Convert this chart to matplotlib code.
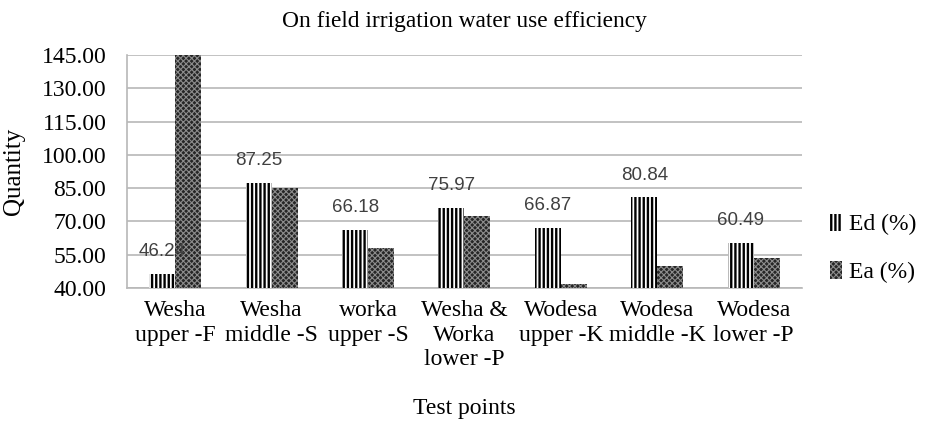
import numpy as np
import matplotlib.pyplot as plt

categories = ["Wesha\nupper -F", "Wesha\nmiddle -S", "worka\nupper -S",
              "Wesha &\nWorka\nlower -P", "Wodesa\nupper -K",
              "Wodesa\nmiddle -K", "Wodesa\nlower -P"]
ed = [46.24, 87.25, 66.18, 75.97, 66.87, 80.84, 60.49]
ea = [150.0, 84.9, 58.2, 72.6, 41.9, 49.9, 53.4]
yticks = [40, 55, 70, 85, 100, 115, 130, 145]

serif = "Liberation Serif"
ed_hlw, ea_hlw = 1.7, 0.8

fig = plt.figure(figsize=(9.28, 4.21), dpi=100)
ax = fig.add_axes([0.137, 0.316, 0.727, 0.553])

x = np.arange(len(categories))
w = 0.27
plt.rcParams['hatch.linewidth'] = ed_hlw
b1 = ax.bar(x - w / 2, ed, w, color="white", edgecolor="black",
            hatch="||||", linewidth=0, label="Ed (%)", zorder=3)
plt.rcParams['hatch.linewidth'] = ea_hlw
b2 = ax.bar(x + w / 2, ea, w, color="#262626", edgecolor="#8c8c8c",
            hatch="xxxxxx", linewidth=0, label="Ea (%)", zorder=3)

for xi, v in zip(x - w / 2, ed):
    ax.annotate(f"{v:.2f}", (xi, v), xytext=(0, 10), textcoords="offset points",
                ha="center", va="bottom", fontsize=13.5, color="#404040",
                family="Liberation Sans", zorder=4)

ax.set_ylim(40, 145)
ax.set_xlim(-0.5, len(categories) - 0.5)
ax.set_yticks(yticks)
ax.set_yticklabels([f"{t:.2f}" for t in yticks], family=serif, fontsize=17)
ax.set_xticks(x)
ax.set_xticklabels(categories, family=serif, fontsize=17, linespacing=1.2)
ax.tick_params(axis="y", length=0, pad=15)
ax.tick_params(axis="x", length=0, pad=9)
ax.yaxis.grid(True, color="#b8b8b8", linewidth=1.2, zorder=0)
for s in ["top", "right"]:
    ax.spines[s].set_visible(False)
for s in ["left", "bottom"]:
    ax.spines[s].set_color("#b8b8b8")
    ax.spines[s].set_linewidth(1.2)

ax.set_title("On field irrigation water use efficiency", family=serif,
             fontsize=16.8, pad=20)
ax.set_ylabel("Quantity", family=serif, fontsize=18, labelpad=12)
ax.set_xlabel("Test points", family=serif, fontsize=17, labelpad=20)

leg = fig.legend(handles=[b1, b2], loc="center left",
                 bbox_to_anchor=(0.872, 0.41), frameon=False,
                 prop={"family": serif, "size": 17},
                 handlelength=0.5, handleheight=0.75, handletextpad=0.3,
                 labelspacing=1.1)
# legend handles pick up the current rc hatch width, so set each one back
for h, lw in zip(leg.legend_handles, [ed_hlw, ea_hlw]):
    if hasattr(h, "set_hatch_linewidth"):
        h.set_hatch_linewidth(lw)
    else:
        h._hatch_linewidth = lw

fig.savefig("out.png", dpi=100)
